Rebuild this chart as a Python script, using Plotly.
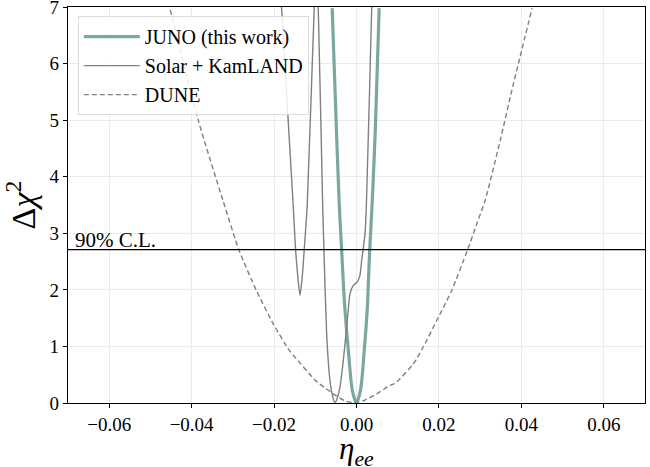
import plotly.graph_objects as go

# Delta chi^2 profiles versus the NSI parameter eta_ee
juno_x = [-0.0059, -0.0050, -0.0042, -0.0036, -0.0029, -0.0020, -0.0010, 0.0,
          0.0010, 0.0019, 0.0026, 0.0032, 0.0038, 0.0046, 0.0055]
juno_y = [6.98, 5.10, 3.53, 2.70, 1.75, 0.95, 0.22, 0.0,
          0.24, 0.95, 1.65, 2.70, 3.53, 4.90, 6.98]

solar_x = [-0.0190, -0.01818, -0.01536, -0.01478, -0.01420, -0.01373, -0.01320,
           -0.01269, -0.01196, -0.01026, -0.00977, -0.00928, -0.00821, -0.00790,
           -0.00724, -0.00644, -0.00580, -0.00522, -0.00460, -0.00401, -0.00321,
           -0.00238, -0.00158, -0.00078, 0.00019, 0.00085, 0.00126, 0.00207,
           0.00243, 0.00369, 0.00400]
solar_y = [8.2, 6.98, 3.50, 2.70, 2.20, 1.90, 2.20,
           2.70, 3.50, 6.98, 7.80, 6.98, 3.50, 2.70,
           1.22, 0.40, 0.12, 0.0, 0.10, 0.28, 0.75,
           1.34, 1.93, 2.08, 2.14, 2.26, 2.52, 2.99,
           3.58, 6.98, 8.0]

dune_x = [-0.0452, -0.0384, -0.0324, -0.0285, -0.0243, -0.0202, -0.0163, -0.0149,
          -0.0100, -0.0075, -0.0050, -0.0025, 0.0, 0.0017, 0.0049, 0.0081,
          0.0094, 0.0138, 0.0162, 0.0199, 0.0231, 0.0269, 0.0292, 0.0312,
          0.0349, 0.0377, 0.0397, 0.0426]
dune_y = [6.95, 5.00, 3.58, 2.70, 1.99, 1.40, 0.93, 0.81,
          0.40, 0.26, 0.13, 0.03, 0.0, 0.04, 0.16, 0.31,
          0.35, 0.69, 0.99, 1.52, 1.99, 2.70, 3.17, 3.58,
          4.65, 5.53, 6.12, 6.98]

cl90 = 2.71
x_ticks = [-0.06, -0.04, -0.02, 0.0, 0.02, 0.04, 0.06]
y_ticks = [0, 1, 2, 3, 4, 5, 6, 7]

serif = "Liberation Serif"
teal = "rgb(122,168,161)"
grey = "rgb(128,128,128)"

fig = go.Figure()
fig.add_trace(go.Scatter(x=juno_x, y=juno_y, mode="lines", name="JUNO (this work)",
                         line=dict(color=teal, width=3.2, shape="spline", smoothing=0.8)))
fig.add_trace(go.Scatter(x=solar_x, y=solar_y, mode="lines", name="Solar + KamLAND",
                         line=dict(color=grey, width=1.4, shape="spline", smoothing=0.5)))
fig.add_trace(go.Scatter(x=dune_x, y=dune_y, mode="lines", name="DUNE",
                         line=dict(color=grey, width=1.4, dash="5px,3px",
                                   shape="spline", smoothing=0.6)))

fig.add_hline(y=cl90, line=dict(color="black", width=1.2))
fig.add_annotation(x=-0.0687, y=cl90, text="90% C.L.", showarrow=False,
                   xanchor="left", yanchor="bottom", yshift=-4,
                   font=dict(family=serif, size=21, color="black"))

# x-axis label placed below the tick labels
fig.add_annotation(x=0.5, y=0, xref="paper", yref="paper", yshift=-27,
                   xanchor="center", yanchor="top", showarrow=False, borderpad=0,
                   text="<i>η</i><sub><i>ee</i></sub>",
                   font=dict(family=serif, size=31, color="black"))

axis_common = dict(showgrid=True, gridcolor="rgb(235,235,235)", gridwidth=1,
                   zeroline=False, showline=True, linecolor="black", linewidth=1.2,
                   mirror=True, ticks="outside", ticklen=4, tickcolor="black",
                   tickfont=dict(family=serif, size=19), automargin=False,
                   ticklabeloverflow="allow")

fig.update_layout(
    width=650, height=467,
    margin=dict(l=68, r=5, t=7, b=64),
    paper_bgcolor="white", plot_bgcolor="white",
    font=dict(family=serif, size=18, color="black"),
    showlegend=True,
    legend=dict(x=0.017, y=0.977, xanchor="left", yanchor="top",
                bgcolor="rgba(255,255,255,0.85)", bordercolor="rgb(220,220,220)",
                borderwidth=1, font=dict(family=serif, size=20, color="black"),
                itemwidth=56),
    xaxis=dict(range=[-0.07, 0.07], tickvals=x_ticks, tickformat=".2f",
               **axis_common),
    yaxis=dict(range=[0, 7], tickvals=y_ticks,
               title=dict(text="Δ<i>χ</i><sup>2</sup>",
                          font=dict(family=serif, size=34), standoff=8),
               **axis_common),
)

fig.write_html("out.html")
